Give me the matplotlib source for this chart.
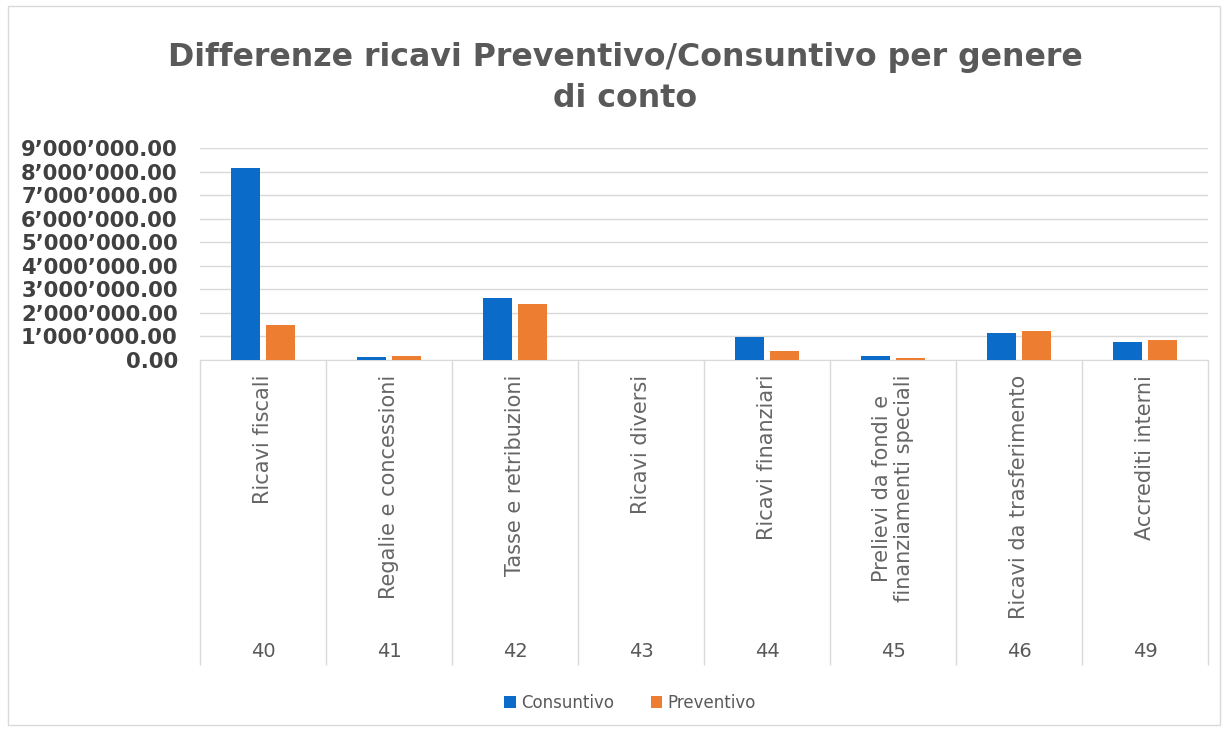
import matplotlib.pyplot as plt
import numpy as np
from matplotlib.patches import Rectangle

codici = ['40', '41', '42', '43', '44', '45', '46', '49']
generi = ['Ricavi fiscali', 'Regalie e concessioni', 'Tasse e retribuzioni',
          'Ricavi diversi', 'Ricavi finanziari',
          'Prelievi da fondi e\nfinanziamenti speciali',
          'Ricavi da trasferimento', 'Accrediti interni']
consuntivo = [8150000, 140000, 2630000, 0, 990000, 170000, 1130000, 760000]
preventivo = [1480000, 150000, 2360000, 0, 380000, 70000, 1240000, 850000]
y_ticks = [0, 1e6, 2e6, 3e6, 4e6, 5e6, 6e6, 7e6, 8e6, 9e6]

W, H = 1225, 731
grid_col = '#D9D9D9'
txt_col = '#595959'

fig = plt.figure(figsize=(W / 100, H / 100), dpi=100)
ax = fig.add_axes([200 / W, 1 - 360 / H, 1008 / W, 212 / H])

x = np.arange(len(codici))
w = 0.23
ax.bar(x - 0.14, consuntivo, w, color='#0A6BC9', label='Consuntivo', zorder=3)
ax.bar(x + 0.14, preventivo, w, color='#ED7D31', label='Preventivo', zorder=3)

ax.set_xlim(-0.5, len(codici) - 0.5)
ax.set_ylim(0, 9e6)


def fmt(v):
    s = f'{v:,.2f}'
    return s.replace(',', '\u2019')


ax.set_yticks(y_ticks, labels=[fmt(v) for v in y_ticks],
              fontweight='bold', fontsize=15.2, color='#404040')
ax.set_xticks([])
ax.tick_params(axis='y', length=0, pad=16)
ax.grid(axis='y', color=grid_col, lw=1)
ax.set_axisbelow(True)
for s in ['top', 'right', 'left']:
    ax.spines[s].set_visible(False)
ax.spines['bottom'].set_color(grid_col)

# multi-level category axis
tr = ax.get_xaxis_transform()
ax.vlines(np.arange(-0.5, len(codici)), -1.44, 0, transform=tr,
          color=grid_col, lw=1, clip_on=False)
for i, (c, g) in enumerate(zip(codici, generi)):
    ax.text(i, -0.07, g, transform=tr, rotation=90, ha='center', va='top',
            fontsize=15, color='#666666', multialignment='center',
            linespacing=1.1)
    ax.text(i, -1.377, c, transform=tr, ha='center', va='center',
            fontsize=14, color=txt_col)

fig.text(625 / W, 1 - 78 / H,
         'Differenze ricavi Preventivo/Consuntivo per genere\ndi conto',
         ha='center', va='center', fontsize=22.8, fontweight='bold',
         color=txt_col, linespacing=1.4)

fig.legend(loc='center', bbox_to_anchor=(630 / W, 1 - 703 / H), ncol=2,
           frameon=False, handlelength=0.7, handleheight=0.7,
           handletextpad=0.3, columnspacing=2.2, fontsize=12,
           labelcolor=txt_col)

fig.patches.append(Rectangle((8 / W, 6 / H), 1212 / W, 719 / H,
                             transform=fig.transFigure, fill=False,
                             edgecolor=grid_col, lw=1))

fig.savefig('out.png', dpi=100)
